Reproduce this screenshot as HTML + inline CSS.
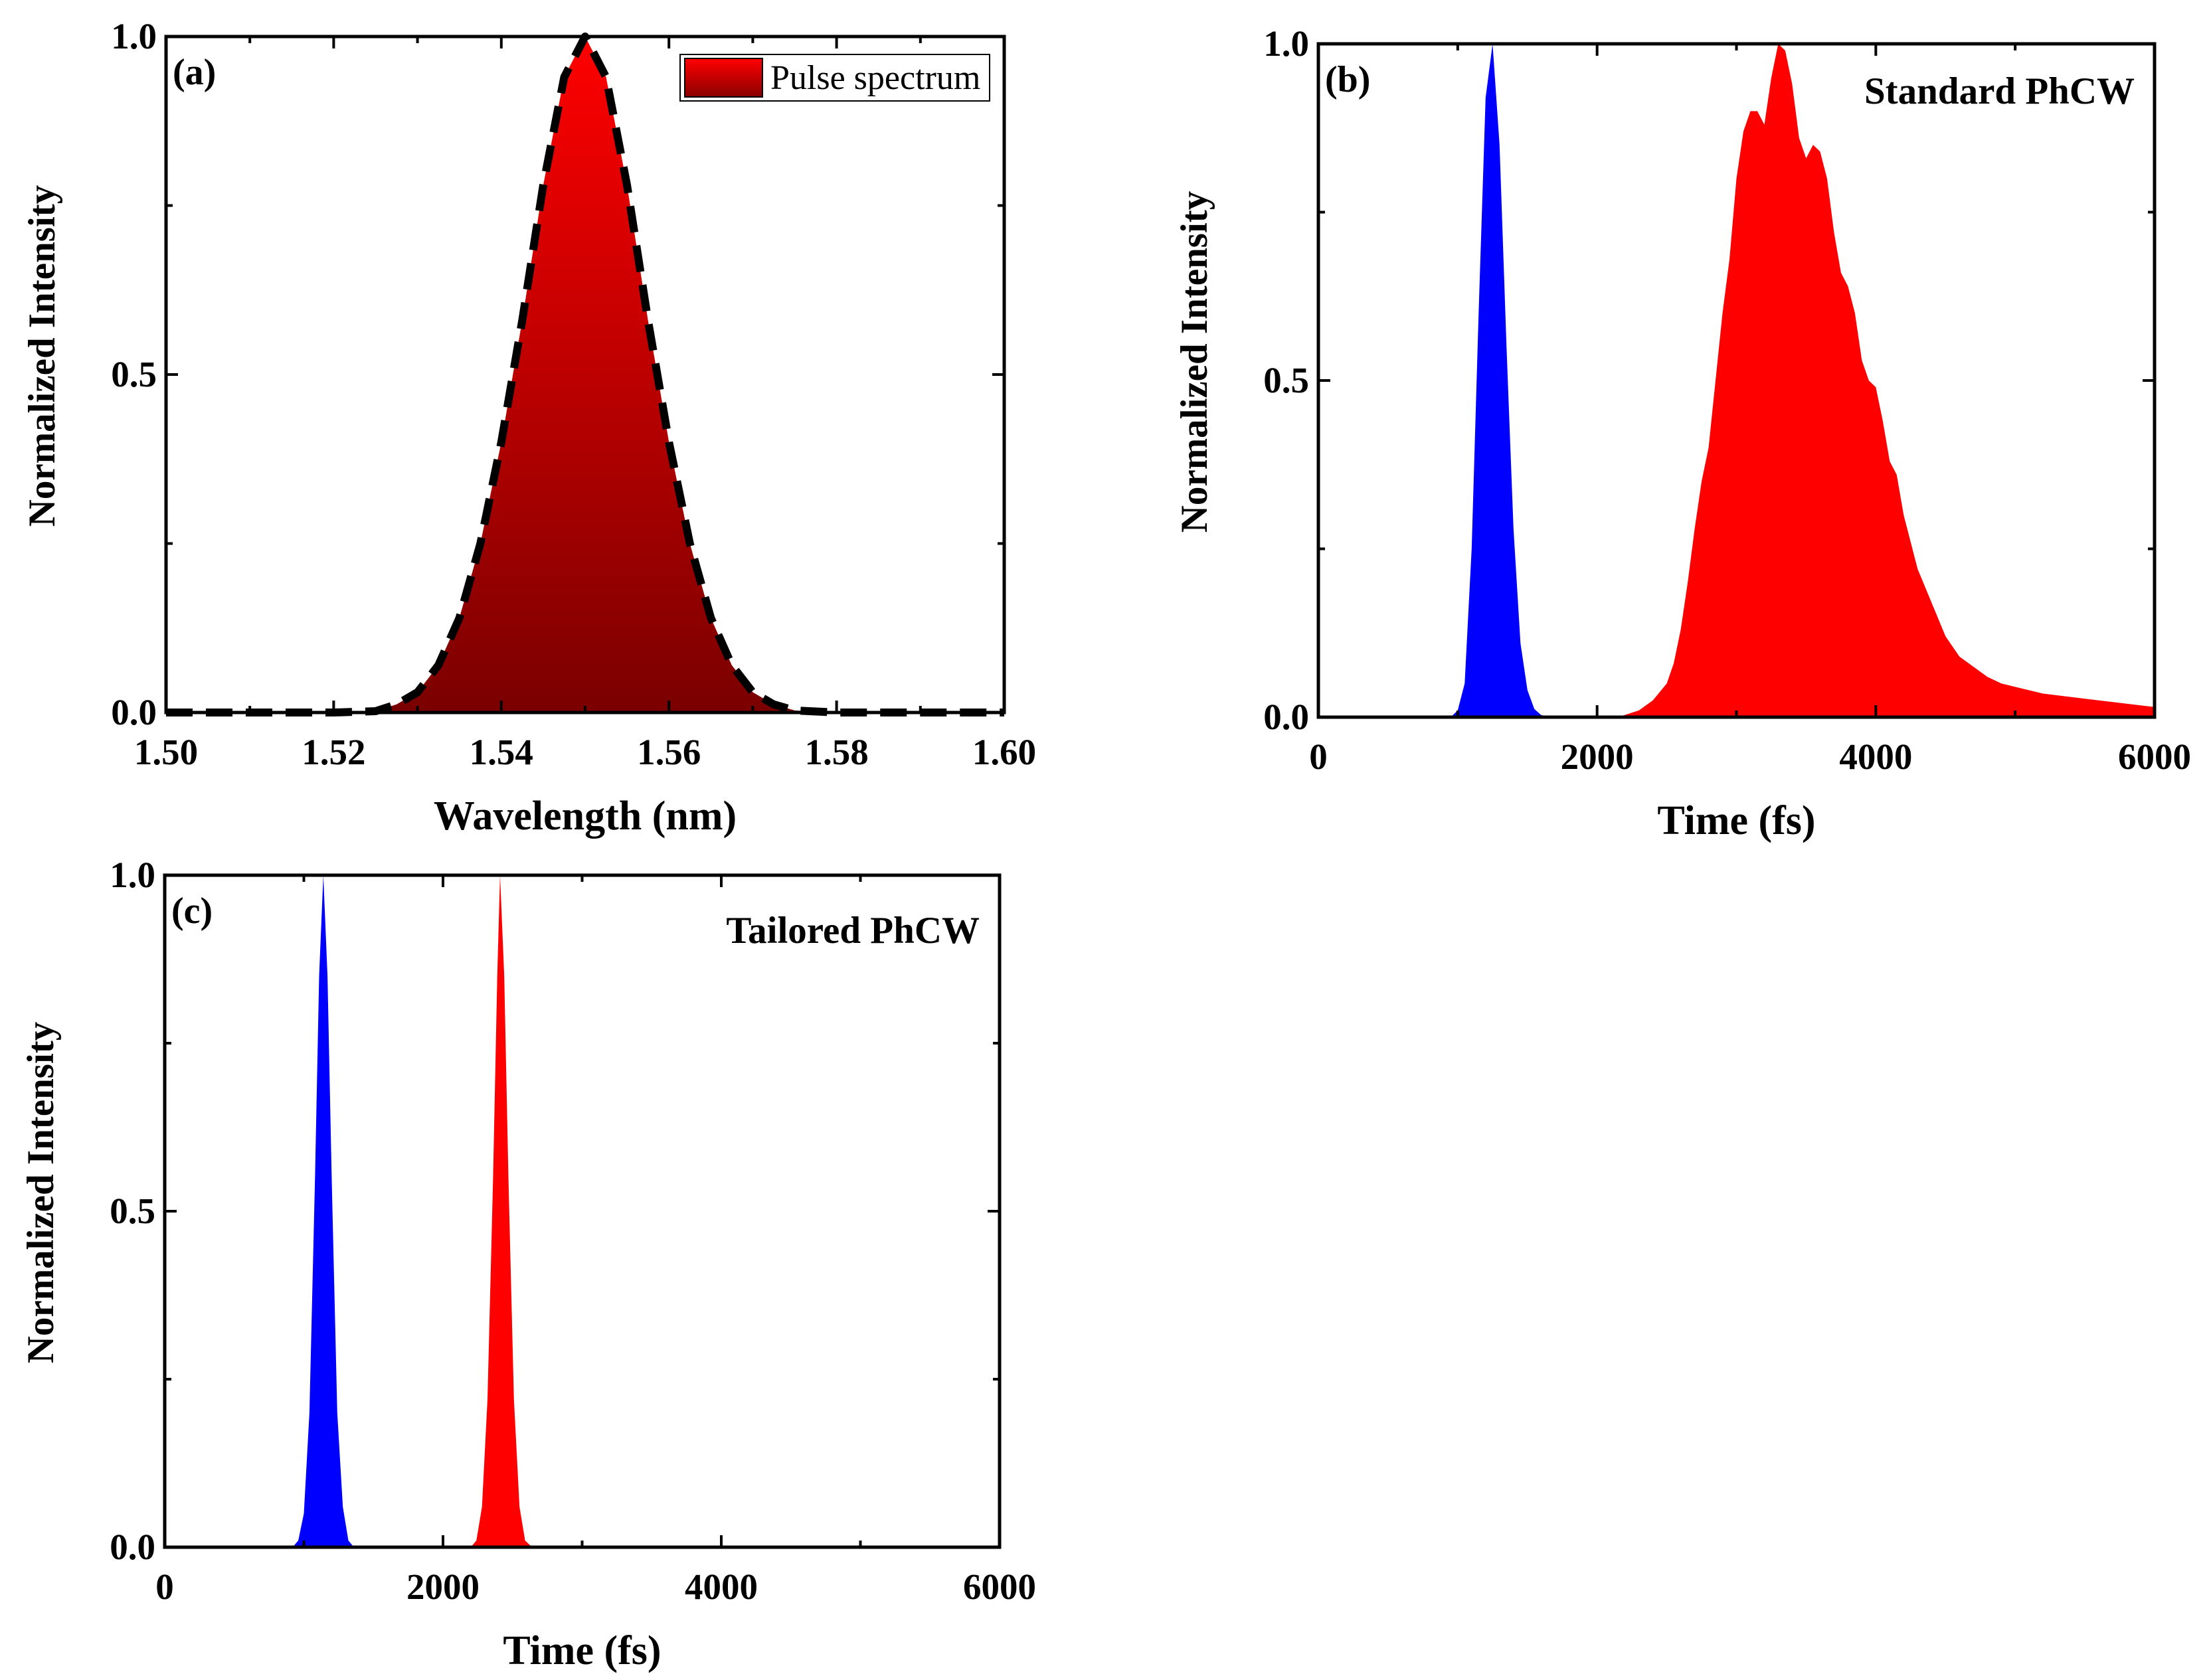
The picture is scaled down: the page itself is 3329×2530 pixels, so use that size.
<!DOCTYPE html>
<html><head><meta charset="utf-8"><style>
html,body{margin:0;padding:0;background:#fff;}
svg{display:block;font-family:"Liberation Serif",serif;}
</style></head><body>
<svg id="fig" width="3329" height="2530" viewBox="0 0 3329 2530" xmlns="http://www.w3.org/2000/svg">
<defs>
<linearGradient id="gradA" x1="0" y1="0" x2="0" y2="1"><stop offset="0" stop-color="#ff0000"/><stop offset="1" stop-color="#7a0000"/></linearGradient>
<linearGradient id="gradL" x1="0" y1="0" x2="0" y2="1"><stop offset="0" stop-color="#ff0000"/><stop offset="1" stop-color="#8a0000"/></linearGradient>
</defs>
</svg>
<script>
// Panel (a) data
const aWavelength = [1.500,1.510,1.520,1.525,1.5275,1.530,1.5325,1.535,1.5375,1.540,1.5425,1.545,1.5475,1.550,1.5525,1.555,1.5575,1.560,1.5625,1.565,1.5675,1.570,1.5725,1.575,1.580,1.590,1.600];
const aIntensity  = [0,0,0,0.002,0.012,0.03,0.07,0.14,0.25,0.40,0.58,0.78,0.94,1.0,0.94,0.78,0.58,0.40,0.25,0.14,0.07,0.03,0.012,0.003,0,0,0];
// Panel (b) data
const bBlueTime = [0,950,1000,1050,1100,1150,1200,1250,1300,1350,1400,1450,1500,1550,1600,1700,6000];
const bBlueVal  = [0,0,0.01,0.05,0.25,0.6,0.92,1.0,0.85,0.55,0.28,0.11,0.04,0.012,0.003,0,0];
const bRedTime = [0,2150,2300,2400,2500,2550,2600,2650,2700,2750,2800,2850,2900,2950,3000,3050,3100,3150,3200,3250,3300,3350,3400,3450,3500,3550,3600,3650,3700,3750,3800,3850,3900,3950,4000,4050,4100,4150,4200,4300,4400,4500,4600,4700,4800,4900,5000,5200,5400,5600,5800,6000];
const bRedVal  = [0,0,0.01,0.025,0.05,0.08,0.13,0.2,0.28,0.35,0.4,0.5,0.6,0.68,0.8,0.87,0.9,0.9,0.88,0.95,1.0,0.99,0.94,0.86,0.83,0.85,0.84,0.8,0.72,0.66,0.64,0.6,0.53,0.5,0.49,0.44,0.38,0.36,0.3,0.22,0.17,0.12,0.09,0.075,0.06,0.05,0.045,0.035,0.03,0.025,0.02,0.015];
// Panel (c) data
const cBlueTime = [0,920,960,1000,1040,1080,1110,1140,1170,1200,1240,1280,1320,1360,6000];
const cBlueVal  = [0,0,0.01,0.05,0.2,0.55,0.85,1.0,0.85,0.55,0.2,0.06,0.01,0,0];
const cRedTime = [0,2200,2240,2280,2320,2360,2390,2410,2440,2470,2510,2550,2590,2640,6000];
const cRedVal  = [0,0,0.01,0.06,0.22,0.55,0.85,1.0,0.85,0.55,0.22,0.06,0.01,0,0];

const yTicks = [0,0.5,1.0];
const yTickLabels = ["0.0","0.5","1.0"];
const aXTicks = [1.50,1.52,1.54,1.56,1.58,1.60];
const aXTickLabels = ["1.50","1.52","1.54","1.56","1.58","1.60"];
const tXTicks = [0,2000,4000,6000];
const tXTickLabels = ["0","2000","4000","6000"];

const NS="http://www.w3.org/2000/svg";
const svg=document.getElementById('fig');
function mk(tag,attrs,parent){const e=document.createElementNS(NS,tag);for(const k in attrs)e.setAttribute(k,attrs[k]);(parent||svg).appendChild(e);return e;}

function panel(o){
  const g=mk('g',{});
  
  
  const sx=v=>o.L+(v-o.x0)/(o.x1-o.x0)*(o.R-o.L);
  const sy=v=>o.B-(v-0)/(1-0)*(o.B-o.T);
  o.series.forEach(s=>{
    let d='M'+sx(s.x[0])+','+sy(0);
    for(let i=0;i<s.x.length;i++)d+=' L'+sx(s.x[i]).toFixed(1)+','+sy(s.y[i]).toFixed(1);
    d+=' L'+sx(s.x[s.x.length-1])+','+sy(0)+' Z';
    const p=mk('path',{d:d,fill:s.fill,stroke:'none'},g);
    
    
    if(s.dash){
      let d2='';
      for(let i=0;i<s.x.length;i++)d2+=(i?' L':'M')+sx(s.x[i]).toFixed(1)+','+sy(s.y[i]).toFixed(1);
      const l=mk('path',{d:d2,fill:'none',stroke:'#000','stroke-width':12,'stroke-dasharray':'40,20','stroke-linejoin':'round'},g);
      
      
    }
  });
  const tk=mk('g',{stroke:'#000','stroke-width':4},g);
  
  
  o.xt.forEach((v,i)=>{
    const x=sx(v);
    mk('line',{x1:x,y1:o.B,x2:x,y2:o.B-18},tk);mk('line',{x1:x,y1:o.T,x2:x,y2:o.T+18},tk);
    if(i<o.xt.length-1){const xm=sx((v+o.xt[i+1])/2);mk('line',{x1:xm,y1:o.B,x2:xm,y2:o.B-10},tk);mk('line',{x1:xm,y1:o.T,x2:xm,y2:o.T+10},tk);}
    const t=mk('text',{x:x,y:o.B+78,'text-anchor':'middle','font-size':55,'font-weight':'bold',fill:'#000',stroke:'none'},g);
    t.textContent=o.xl[i];
    
    
  });
  yTicks.forEach((v,i)=>{
    const y=sy(v);
    mk('line',{x1:o.L,y1:y,x2:o.L+18,y2:y},tk);mk('line',{x1:o.R,y1:y,x2:o.R-18,y2:y},tk);
    if(i<yTicks.length-1){const ym=sy((v+yTicks[i+1])/2);mk('line',{x1:o.L,y1:ym,x2:o.L+10,y2:ym},tk);mk('line',{x1:o.R,y1:ym,x2:o.R-10,y2:ym},tk);}
    const t=mk('text',{x:o.L-14,y:y+18,'text-anchor':'end','font-size':55,'font-weight':'bold',fill:'#000',stroke:'none'},g);
    t.textContent=yTickLabels[i];
    
    
  });
  const fr=mk('rect',{x:o.L,y:o.T,width:o.R-o.L,height:o.B-o.T,fill:'none',stroke:'#000','stroke-width':5},g);
  
  
  const xt=mk('text',{x:(o.L+o.R)/2,y:o.B+176,'text-anchor':'middle','font-size':62,'font-weight':'bold'},g);
  xt.textContent=o.xtitle;
  
  
  const cy=(o.T+o.B)/2-28;
  const yx=o.L-188;
  const yt=mk('text',{x:yx,y:cy,'text-anchor':'middle','font-size':57,'font-weight':'bold',transform:'rotate(-90 '+yx+' '+cy+') translate(0,20)'},g);
  yt.textContent='Normalized Intensity';
  
  
  const lb=mk('text',{x:o.L+10,y:o.T+72,'font-size':56,'font-weight':'bold'},g);
  lb.textContent=o.label;
  
  
  if(o.title){
    const tt=mk('text',{x:o.R-30,y:o.T+o.tdy,'text-anchor':'end','font-size':57,'font-weight':'bold'},g);
    tt.textContent=o.title;
    
    
  }
  return g;
}

panel({name:'panel-a',L:250,R:1512,T:55,B:1073,x0:1.5,x1:1.6,xt:aXTicks,xl:aXTickLabels,xtitle:'Wavelength (nm)',label:'(a)',
  series:[{name:'pulse-spectrum-area',x:aWavelength,y:aIntensity,fill:'url(#gradA)',dash:true}]});
panel({name:'panel-b',L:1985,R:3244,T:66,B:1080,x0:0,x1:6000,xt:tXTicks,xl:tXTickLabels,xtitle:'Time (fs)',label:'(b)',title:'Standard PhCW',tdy:90,
  series:[{name:'input-pulse-blue',x:bBlueTime,y:bBlueVal,fill:'#0000ff'},{name:'output-pulse-red',x:bRedTime,y:bRedVal,fill:'#ff0000'}]});
panel({name:'panel-c',L:248,R:1505,T:1318,B:2330,x0:0,x1:6000,xt:tXTicks,xl:tXTickLabels,xtitle:'Time (fs)',label:'(c)',title:'Tailored PhCW',tdy:102,
  series:[{name:'input-pulse-blue',x:cBlueTime,y:cBlueVal,fill:'#0000ff'},{name:'output-pulse-red',x:cRedTime,y:cRedVal,fill:'#ff0000'}]});

const lg=mk('g',{});


mk('rect',{x:1024,y:82,width:466,height:70,fill:'#fff',stroke:'#000','stroke-width':2},lg);
const sw=mk('rect',{x:1031,y:88,width:117,height:58,fill:'url(#gradL)',stroke:'#000','stroke-width':2},lg);


const lt=mk('text',{x:1160,y:134,'font-size':52},lg);
lt.textContent='Pulse spectrum';


</script>
</body></html>
